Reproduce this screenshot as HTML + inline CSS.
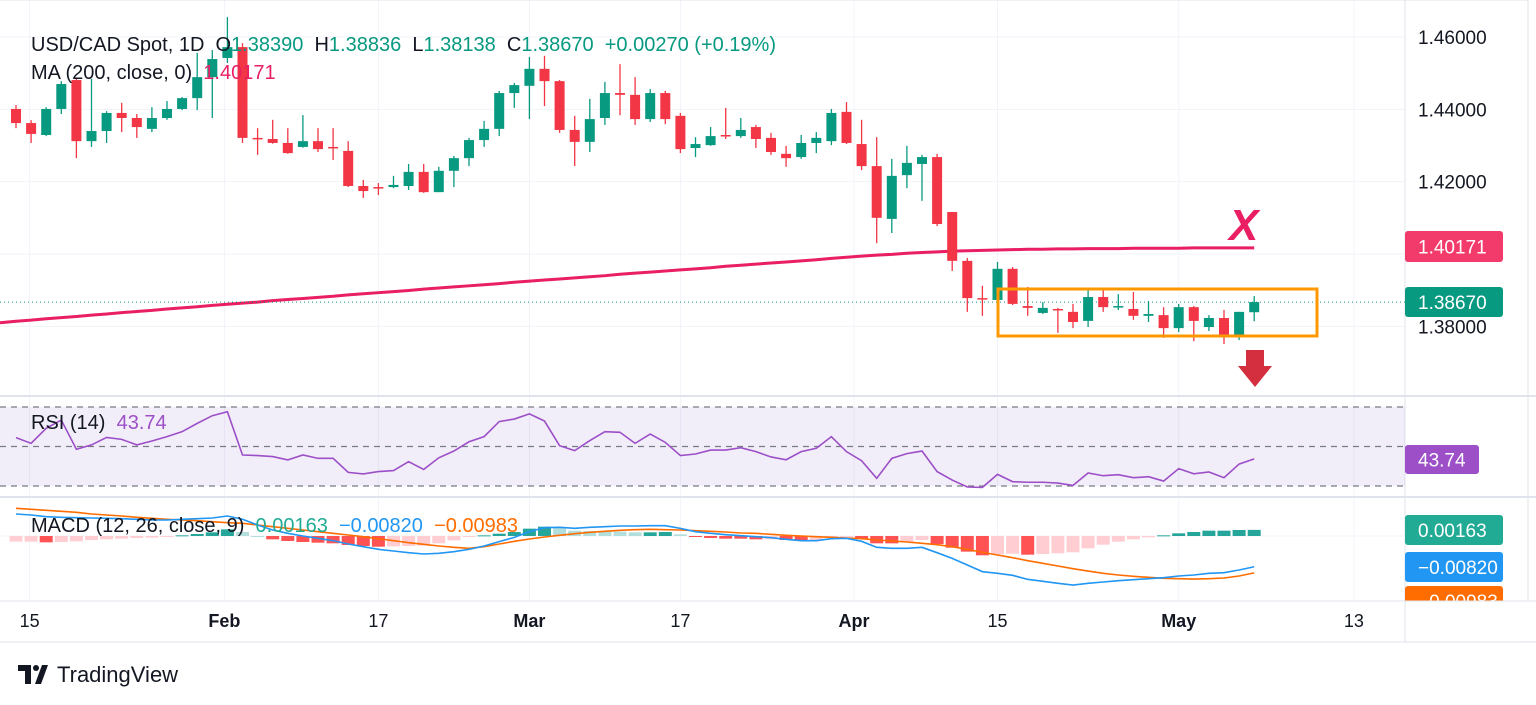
<!DOCTYPE html>
<html><head><meta charset="utf-8"><style>
html,body{margin:0;padding:0;background:#fff;width:1536px;height:705px;overflow:hidden;font-family:"Liberation Sans",sans-serif}
svg{position:absolute;left:0;top:0}
text{white-space:pre}
</style></head><body>
<svg id="c" width="1536" height="705" xmlns="http://www.w3.org/2000/svg"></svg>
<script>
const opens=[1.4401,1.4362,1.4329,1.4401,1.4481,1.4312,1.4340,1.4390,1.4376,1.4346,1.4376,1.4401,1.4431,1.4489,1.4542,1.4572,1.4321,1.4318,1.4307,1.4296,1.4312,1.4296,1.4285,1.4188,1.4185,1.4185,1.4188,1.4227,1.4171,1.4230,1.4265,1.4315,1.4346,1.4445,1.4465,1.4512,1.4478,1.4343,1.4310,1.4376,1.4445,1.4440,1.4373,1.4445,1.4382,1.4293,1.4301,1.4329,1.4326,1.4351,1.4321,1.4277,1.4268,1.4307,1.4312,1.4393,1.4304,1.4243,1.4097,1.4218,1.4249,1.4268,1.4116,1.3981,1.3878,1.3873,1.3959,1.3856,1.3837,1.3848,1.3840,1.3815,1.3881,1.3853,1.3848,1.3829,1.3831,1.3795,1.3853,1.3798,1.3823,1.3776,1.3839];
const highs=[1.4412,1.4370,1.4406,1.4478,1.4484,1.4484,1.4395,1.4418,1.4387,1.4406,1.4423,1.4434,1.4556,1.4564,1.4655,1.4583,1.4348,1.4371,1.4348,1.4384,1.4348,1.4348,1.4312,1.4205,1.4196,1.4216,1.4249,1.4249,1.4241,1.4271,1.4321,1.4368,1.4451,1.4473,1.4545,1.4548,1.4481,1.4382,1.4429,1.4476,1.4525,1.4489,1.4456,1.4451,1.4390,1.4323,1.4351,1.4404,1.4376,1.4357,1.4335,1.4299,1.4329,1.4337,1.4401,1.4420,1.4371,1.4323,1.4263,1.4299,1.4274,1.4277,1.4116,1.3989,1.3912,1.3978,1.3964,1.3909,1.3867,1.3851,1.3862,1.3906,1.3900,1.3889,1.3895,1.3870,1.3853,1.3862,1.3856,1.3831,1.3845,1.3840,1.38836];
const lows=[1.4348,1.4307,1.4326,1.4387,1.4265,1.4296,1.4307,1.4337,1.4321,1.4337,1.4371,1.4398,1.4398,1.4376,1.4528,1.4307,1.4274,1.4305,1.4277,1.4294,1.4282,1.4260,1.4185,1.4155,1.4163,1.4182,1.4177,1.4169,1.4171,1.4185,1.4243,1.4296,1.4326,1.4404,1.4373,1.4409,1.4335,1.4243,1.4282,1.4357,1.4384,1.4357,1.4365,1.4359,1.4279,1.4268,1.4299,1.4318,1.4321,1.4293,1.4274,1.4241,1.4263,1.4279,1.4301,1.4304,1.4232,1.4030,1.4058,1.4182,1.4147,1.4077,1.3953,1.3840,1.3829,1.3851,1.3859,1.3829,1.3834,1.3782,1.3795,1.3798,1.3840,1.3845,1.3818,1.3812,1.3768,1.3784,1.3759,1.3787,1.3751,1.3762,1.38138];
const closes=[1.4362,1.4332,1.4401,1.4470,1.4312,1.4340,1.4390,1.4376,1.4351,1.4376,1.4401,1.4431,1.4489,1.4539,1.4572,1.4321,1.4318,1.4307,1.4279,1.4312,1.4290,1.4293,1.4188,1.4174,1.4184,1.4191,1.4227,1.4171,1.4230,1.4265,1.4315,1.4346,1.4445,1.4467,1.4512,1.4478,1.4343,1.4310,1.4373,1.4445,1.4440,1.4373,1.4445,1.4373,1.4290,1.4304,1.4326,1.4326,1.4343,1.4318,1.4282,1.4265,1.4307,1.4321,1.4390,1.4307,1.4243,1.4100,1.4216,1.4252,1.4268,1.4083,1.3981,1.3878,1.3876,1.3959,1.3862,1.3851,1.3851,1.3845,1.3812,1.3881,1.3853,1.3856,1.3829,1.3834,1.3795,1.3853,1.3815,1.3823,1.3776,1.3840,1.3867];
const ma200=[1.3814,1.3817,1.3821,1.3824,1.3827,1.3831,1.3834,1.3838,1.3841,1.3844,1.3848,1.3851,1.3854,1.3858,1.3861,1.3864,1.3867,1.3871,1.3874,1.3877,1.3880,1.3883,1.3887,1.3890,1.3893,1.3896,1.3899,1.3903,1.3906,1.3909,1.3912,1.3915,1.3918,1.3922,1.3925,1.3928,1.3931,1.3934,1.3937,1.3940,1.3944,1.3947,1.3950,1.3953,1.3956,1.3959,1.3962,1.3966,1.3969,1.3972,1.3975,1.3978,1.3981,1.3984,1.3988,1.3991,1.3994,1.3997,1.3999,1.4002,1.4004,1.4006,1.4008,1.4009,1.4010,1.4011,1.4012,1.4013,1.4013,1.4014,1.4014,1.4015,1.4015,1.4015,1.4016,1.4016,1.4016,1.4016,1.4017,1.4017,1.4017,1.4017,1.4017];
const rsi=[54.5,51.6,59.2,63.4,48.6,50.8,54.6,53.6,50.8,52.8,55.0,57.5,61.7,65.6,67.6,45.7,45.4,44.9,43.2,45.7,44.0,44.0,36.9,36.1,37.3,37.8,42.3,38.4,44.3,47.7,52.4,55.0,62.6,63.9,66.5,62.9,50.4,47.9,53.0,57.5,57.2,51.6,56.3,52.1,45.4,46.2,48.2,48.2,49.4,47.4,44.7,43.3,47.4,49.1,55.0,47.4,42.8,33.9,44.0,46.4,47.7,37.3,33.0,29.5,29.3,35.9,32.2,31.9,31.9,31.5,30.3,36.6,35.2,35.7,34.2,34.7,32.5,38.8,36.2,37.1,34.2,41.1,43.74];
const macd=[0.00587,0.00560,0.00516,0.00498,0.00489,0.00480,0.00471,0.00462,0.00445,0.00427,0.00427,0.00445,0.00462,0.00480,0.00533,0.00445,0.00293,0.00160,0.00071,0.0,-0.00062,-0.00124,-0.00213,-0.00284,-0.00356,-0.00400,-0.00445,-0.00480,-0.00462,-0.00418,-0.00356,-0.00267,-0.00151,-0.00036,0.00116,0.00222,0.00231,0.00204,0.00231,0.00249,0.00267,0.00267,0.00276,0.00276,0.00204,0.00116,0.00071,0.00036,0.00009,-0.00018,-0.00044,-0.00089,-0.00124,-0.00124,-0.00071,-0.00062,-0.00142,-0.00302,-0.00329,-0.00329,-0.00302,-0.00445,-0.00596,-0.00773,-0.00951,-0.00996,-0.01049,-0.01156,-0.01209,-0.01262,-0.01307,-0.01262,-0.01227,-0.01191,-0.01165,-0.01138,-0.01111,-0.01067,-0.01040,-0.00996,-0.00978,-0.00907,-0.00820];
const signal=[0.00738,0.00711,0.00685,0.00658,0.00631,0.00587,0.00560,0.00533,0.00498,0.00471,0.00445,0.00427,0.00409,0.00382,0.00356,0.00338,0.00293,0.00249,0.00204,0.00160,0.00116,0.00071,0.00027,-0.00018,-0.00071,-0.00124,-0.00178,-0.00222,-0.00267,-0.00302,-0.00329,-0.00284,-0.00213,-0.00142,-0.00080,-0.00027,0.00018,0.00062,0.00098,0.00124,0.00151,0.00169,0.00178,0.00169,0.00160,0.00142,0.00124,0.00107,0.00080,0.00071,0.00044,0.00018,0.0,-0.00018,-0.00036,-0.00053,-0.00071,-0.00107,-0.00133,-0.00160,-0.00196,-0.00231,-0.00284,-0.00356,-0.00436,-0.00507,-0.00578,-0.00658,-0.00729,-0.00800,-0.00871,-0.00934,-0.00996,-0.01040,-0.01076,-0.01102,-0.01129,-0.01138,-0.01147,-0.01138,-0.01120,-0.01067,-0.00983];
const timeLabels=["15","Feb","17","Mar","17","Apr","15","May","13"];
const timeLabelIdx=[0.9,13.8,24,34,44,55.5,65,77,88.6];
const priceTicks=[1.46,1.44,1.42,1.38];

const S=document.getElementById('c');const NS='http://www.w3.org/2000/svg';
const FF='Liberation Sans, sans-serif';
function mk(t,a,p){const e=document.createElementNS(NS,t);for(const k in a)e.setAttribute(k,a[k]);(p||S).appendChild(e);return e;}
const X=i=>16+i*15.1;
const PY=p=>37+(1.46-p)*3616.5;
const RY=v=>446.5-(v-50)*1.975;
const MY=v=>536-v*3750;
const PR=1405;
for(const t of timeLabelIdx){const l=mk('line',{x1:X(t),x2:X(t),y1:0,y2:600,stroke:'#f0f3fa'});}
for(const p of priceTicks.concat([1.40])){const l=mk('line',{x1:0,x2:PR,y1:PY(p),y2:PY(p),stroke:'#f0f3fa'});}
mk('line',{x1:0,x2:1536,y1:396,y2:396,stroke:'#e0e3eb','stroke-width':2});
mk('line',{x1:0,x2:1536,y1:497,y2:497,stroke:'#e0e3eb','stroke-width':2});
mk('line',{x1:PR,x2:PR,y1:0,y2:642,stroke:'#e0e3eb'});
mk('line',{x1:0,x2:1536,y1:642,y2:642,stroke:'#e0e3eb'});
mk('line',{x1:1528,x2:1528,y1:0,y2:642,stroke:'#e0e3eb'});
mk('line',{x1:0,x2:1528,y1:0,y2:0,stroke:'#e0e3eb'});
let d='';ma200.forEach((v,i)=>{d+=(i?'L':'M')+X(i)+' '+PY(v);});
const maL=mk('path',{d:'M0 '+(PY(ma200[0])+1.5)+' L'+d.slice(1),fill:'none',stroke:'#e91e63','stroke-width':3});

const cl=mk('line',{x1:0,x2:PR,y1:PY(closes[closes.length-1]),y2:PY(closes[closes.length-1]),stroke:'#089981','stroke-dasharray':'1 3'});

opens.forEach((o,i)=>{const c=closes[i],up=c>=o,col=up?'#089981':'#f23645',x=X(i);
 const g=mk('g',{});
 mk('line',{x1:x,x2:x,y1:PY(highs[i]),y2:PY(lows[i]),stroke:col,'stroke-width':1.3},g);
 const t=PY(Math.max(o,c)),b=PY(Math.min(o,c));
 mk('rect',{x:x-5,y:t,width:10,height:Math.max(1.5,b-t),fill:col},g);});
const rb=mk('rect',{x:998,y:289,width:319,height:47,fill:'none',stroke:'#ff9800','stroke-width':3});

const xt=mk('text',{x:1229,y:240,'font-size':44,'font-style':'italic','font-weight':'bold',fill:'#e91e63','font-family':FF});xt.textContent='X';

const ar=mk('path',{d:'M1246 350 H1264 V366 H1272 L1255 387 L1238 366 H1246 Z',fill:'#d32f3f'});

const rb2=mk('rect',{x:0,y:RY(70),width:PR,height:RY(30)-RY(70),fill:'#7e57c2','fill-opacity':0.1});

[70,50,30].forEach(v=>{mk('line',{x1:0,x2:PR,y1:RY(v),y2:RY(v),stroke:'#787b86','stroke-dasharray':'6 5','stroke-width':1.3});});
d='';rsi.forEach((v,i)=>{d+=(i?'L':'M')+X(i)+' '+RY(v);});
const rl=mk('path',{d:d,fill:'none',stroke:'#9c4fc7','stroke-width':1.6});

mk('line',{x1:0,x2:PR,y1:MY(0),y2:MY(0),stroke:'#f0f3fa'});
macd.forEach((m,i)=>{const h=m-signal[i],prev=i?macd[i-1]-signal[i-1]:h;
 let col=h>=0?(h>=prev?'#26a69a':'#b2dfdb'):(h<prev?'#ff5252':'#ffcdd2');
 const y1=MY(Math.max(h,0)),y2=MY(Math.min(h,0));
 const r=mk('rect',{x:X(i)-6.5,y:y1,width:13,height:Math.max(1,y2-y1),fill:col});
 });
d='';signal.forEach((v,i)=>{d+=(i?'L':'M')+X(i)+' '+MY(v);});
const sl=mk('path',{d:d,fill:'none',stroke:'#ff6d00','stroke-width':1.6});

d='';macd.forEach((v,i)=>{d+=(i?'L':'M')+X(i)+' '+MY(v);});
const ml=mk('path',{d:d,fill:'none',stroke:'#2196f3','stroke-width':1.6});

function txt(x,y,s,opt){const e=mk('text',Object.assign({x:x,y:y,'font-size':19,fill:'#131722','font-family':FF},opt||{}));e.textContent=s;return e;}
priceTicks.forEach(p=>{const t=txt(1418,PY(p)+7,p.toFixed(5));});
timeLabels.forEach((s,k)=>{const bold=isNaN(+s);const t=txt(X(timeLabelIdx[k]),627,s,{'text-anchor':'middle','font-weight':bold?'bold':'normal','font-size':18});});
function badge(y,h,w,col,s,name){const g=mk('g',{});
 mk('rect',{x:1405,y:y,width:w,height:h,rx:3,fill:col},g);
 const t=mk('text',{x:1418,y:y+h/2+7,'font-size':19,fill:'#fff','font-family':FF},g);t.textContent=s;}
badge(231,31,98,'#f23a6b','1.40171','ma-price-badge');
badge(287,30,98,'#089981','1.38670','last-price-badge');
badge(445,29,74,'#9c4fc7','43.74','rsi-value-badge');
badge(515,30,98,'#22ab94','0.00163','macd-hist-badge');
badge(552,30,98,'#2196f3','\u22120.00820','macd-line-badge');
badge(586,30,98,'#ff6d00','\u22120.00983','macd-signal-badge');
mk('rect',{x:1400,y:601,width:136,height:40,fill:'#fff'});
mk('line',{x1:0,x2:1536,y1:601,y2:601,stroke:'#e0e3eb'});
mk('line',{x1:PR,x2:PR,y1:601,y2:642,stroke:'#e0e3eb'});
const lg=mk('text',{x:31,y:51,'font-size':20,fill:'#131722','font-family':FF});
lg.innerHTML='USD/CAD Spot, 1D  O<tspan fill="#089981">1.38390</tspan>  H<tspan fill="#089981">1.38836</tspan>  L<tspan fill="#089981">1.38138</tspan>  C<tspan fill="#089981">1.38670</tspan>  <tspan fill="#089981">+0.00270 (+0.19%)</tspan>';
const lm=mk('text',{x:31,y:79,'font-size':20,fill:'#131722','font-family':FF});
lm.innerHTML='MA (200, close, 0)  <tspan fill="#e91e63">1.40171</tspan>';
const lr=mk('text',{x:31,y:429,'font-size':20,fill:'#131722','font-family':FF});
lr.innerHTML='RSI (14)  <tspan fill="#9c4fc7">43.74</tspan>';
const lmc=mk('text',{x:31,y:532,'font-size':20,fill:'#131722','font-family':FF});
lmc.innerHTML='MACD (12, 26, close, 9)  <tspan fill="#22ab94">0.00163</tspan>  <tspan fill="#2196f3">\u22120.00820</tspan>  <tspan fill="#ff6d00">\u22120.00983</tspan>';
const lo=mk('g',{});
mk('path',{d:'M18 665 H31 V684 H25 V671 H18 Z',fill:'#131722'},lo);
mk('circle',{cx:36,cy:668,r:3,fill:'#131722'},lo);
mk('path',{d:'M42 665 L48 665 L41 684 L35 684 Z',fill:'#131722'},lo);
const lt=mk('text',{x:57,y:682,'font-size':22,fill:'#131722','font-family':FF},lo);lt.textContent='TradingView';
</script>
</body></html>
